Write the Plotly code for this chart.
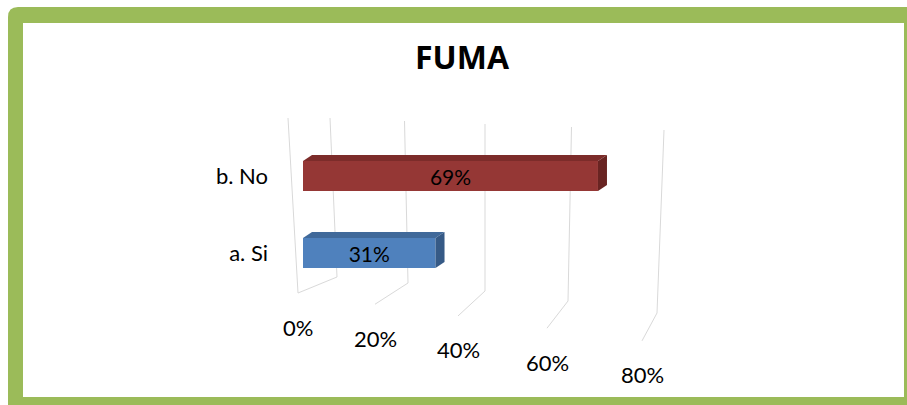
import plotly.graph_objects as go

# ---- data ----
categories = ["a. Si", "b. No"]
values = [0.31, 0.69]
tick_values = [0.0, 0.2, 0.4, 0.6, 0.8]
tick_labels = ["0%", "20%", "40%", "60%", "80%"]
title_text = "FUMA"

# ---- styles ----
W, H = 907, 405
L, R, T, B = 303, 262, 115, 105
PW, PH = W - L - R, H - T - B
XR = [0, 0.8]
YR = [-0.610, 1.792]
front_colors = ["#4f81bd", "#953735"]
top_colors = ["#40699a", "#7c2c2a"]
side_colors = ["#365a86", "#692422"]
GREEN = "#9bbb59"
GRID = "#d9d9d9"
FONT = "Lato"

ppx = PW / (XR[1] - XR[0])
ppy = PH / (YR[1] - YR[0])


def px_x(p):
    return (p - L) / PW


def px_y(p):
    return (H - B - p) / PH


ypos = list(range(len(categories)))
bar_w = 30 / ppy
dx, dy = 9 / ppx, 6 / ppy

fig = go.Figure()
fig.add_trace(go.Bar(
    y=ypos, x=values, orientation="h", width=bar_w,
    marker=dict(color=front_colors, line=dict(width=0)),
    text=[f"{v:.0%}" for v in values], textposition="inside",
    insidetextanchor="middle", constraintext="none",
    textfont=dict(family=FONT, size=21, color="black"),
    hoverinfo="skip",
))

shapes = []
# frame
shapes.append(dict(type="path", xref="paper", yref="paper", layer="below",
                   path=f"M {px_x(8)},{px_y(H+5)} L {px_x(8)},{px_y(17)} Q {px_x(8)},{px_y(7)} {px_x(18)},{px_y(7)} "
                        f"L {px_x(W+5)},{px_y(7)} L {px_x(W+5)},{px_y(H+5)} Z",
                   fillcolor=GREEN, line=dict(width=0)))
shapes.append(dict(type="rect", xref="paper", yref="paper", layer="below",
                   x0=px_x(23), x1=px_x(904), y0=px_y(397), y1=px_y(23),
                   fillcolor="white", line=dict(width=0)))

# perspective walls / gridlines (decoration)
shapes.append(dict(type="line", xref="paper", yref="paper", layer="below",
                   x0=px_x(288), y0=px_y(118), x1=px_x(298), y1=px_y(293),
                   line=dict(color=GRID, width=1)))
for t in tick_values:
    xb = 337 + 340 * t + 75 * t * t
    yb = 277 + 25 * t + 25 * t * t
    xt = xb - 7 + 17.5 * t
    yt = 118 + 15 * t
    xf = 298 + 370 * t + 75 * t * t
    yf = 293 + 55 * t + 6 * t * t
    shapes.append(dict(type="line", xref="paper", yref="paper", layer="below",
                       x0=px_x(xt), y0=px_y(yt), x1=px_x(xb), y1=px_y(yb),
                       line=dict(color=GRID, width=1)))
    shapes.append(dict(type="line", xref="paper", yref="paper", layer="below",
                       x0=px_x(xb), y0=px_y(yb), x1=px_x(xf), y1=px_y(yf),
                       line=dict(color=GRID, width=1)))

# 3D faces of bars
for i, v in enumerate(values):
    y0, y1 = ypos[i] - bar_w / 2, ypos[i] + bar_w / 2
    shapes.append(dict(type="path", xref="x", yref="y", layer="above",
                       path=f"M 0,{y1} L {v},{y1} L {v+dx},{y1+dy} L {dx},{y1+dy} Z",
                       fillcolor=top_colors[i], line=dict(width=0)))
    shapes.append(dict(type="path", xref="x", yref="y", layer="above",
                       path=f"M {v},{y0} L {v},{y1} L {v+dx},{y1+dy} L {v+dx},{y0+dy} Z",
                       fillcolor=side_colors[i], line=dict(width=0)))

annotations = []
for t, lab in zip(tick_values, tick_labels):
    xf = 298 + 370 * t + 75 * t * t
    yf = 293 + 55 * t + 6 * t * t
    annotations.append(dict(x=px_x(xf), y=px_y(yf + 34), xref="paper", yref="paper",
                            text=lab, showarrow=False, xanchor="center", yanchor="middle",
                            font=dict(family=FONT, size=22, color="black")))

fig.update_layout(
    width=W, height=H,
    margin=dict(l=L, r=R, t=T, b=B, autoexpand=False),
    paper_bgcolor="white", plot_bgcolor="rgba(0,0,0,0)",
    showlegend=False,
    title=dict(text=f"<b>{title_text}</b>", x=462 / W, y=1 - 58 / H, xref="container", yref="container",
               xanchor="center", yanchor="middle",
               font=dict(family="Open Sans", size=32, color="black")),
    xaxis=dict(range=XR, showgrid=False, zeroline=False, showticklabels=False,
               showline=False, ticks="", fixedrange=True),
    yaxis=dict(range=YR, tickvals=ypos, ticktext=categories, showgrid=False, zeroline=False,
               showline=False, ticks="", ticklabelstandoff=34,
               tickfont=dict(family=FONT, size=22, color="black"), fixedrange=True),
    shapes=shapes, annotations=annotations,
)

fig.write_html(
    "out.html",
    config={"displayModeBar": False},
    post_script="document.body.style.margin='0';document.body.style.overflow='hidden';",
)
